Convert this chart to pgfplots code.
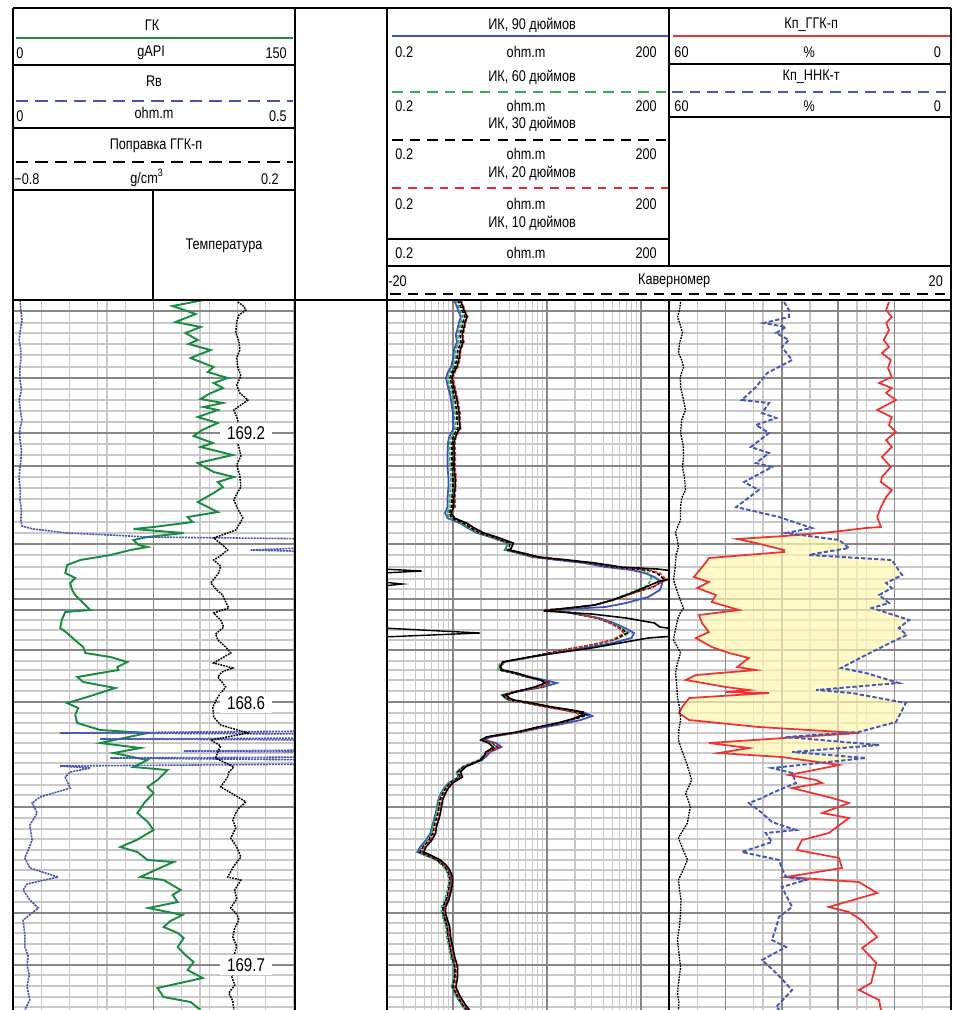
\documentclass[border=0pt]{standalone}
\usepackage{pgfplots}
\usepackage{pgfplotstable}
\pgfplotsset{compat=1.18}
\usepackage{fontspec}
\setmainfont{Liberation Sans}[FakeStretch=0.82]

\definecolor{gkgreen}{RGB}{25,140,65}
\definecolor{rwblue}{RGB}{70,85,180}
\definecolor{ikblue}{RGB}{60,80,190}
\definecolor{ikgreen}{RGB}{50,175,80}
\definecolor{ikred}{RGB}{240,40,40}
\definecolor{kpred}{RGB}{240,50,50}
\definecolor{kpblue}{RGB}{70,90,180}
\definecolor{gridlight}{RGB}{200,200,200}
\definecolor{griddark}{RGB}{135,135,135}
\definecolor{fillyellow}{RGB}{255,248,175}

% ---------- log data (depth in chart rows) ----------
\pgfplotstableread{
depth gk
300 101.8
306 85.2
314 97.5
322 86.8
327 100.2
333 92.1
340 98.6
344 93.7
350 105.5
358 94.8
362 100.2
367 107.1
372 104.0
378 114.6
383 107.1
388 112.0
394 104.5
399 100.2
403 112.0
407 101.8
410 109.3
417 98.6
423 109.3
430 101.0
436 96.4
443 106.6
447 100.2
455 117.3
463 98.6
472 107.1
477 117.9
482 109.3
487 112.0
493 107.1
502 98.6
507 104.0
512 109.3
517 93.2
522 95.9
527 75.0
529 64.3
533 91.1
537 71.8
540 64.3
545 67.0
547 71.8
550 62.7
555 52.0
560 35.9
565 28.9
573 27.9
578 33.2
583 30.5
590 31.6
595 33.2
603 37.5
610 41.2
612 27.9
620 26.0
628 25.2
633 28.9
640 33.0
647 37.5
653 38.6
657 52.0
662 61.1
667 55.7
670 56.2
677 34.3
682 37.5
688 54.6
697 39.6
703 28.9
708 34.8
715 33.2
723 34.3
730 46.6
733 71.8
743 46.6
748 68.0
753 53.6
760 71.8
767 64.3
770 82.5
780 77.1
787 71.8
793 75.0
803 70.0
813 66.4
822 72.0
830 75.0
840 66.0
847 57.3
852 66.4
860 71.8
862 85.7
870 76.0
877 68.0
880 80.4
890 89.5
895 85.2
902 87.9
908 72.3
915 90.5
921 84.0
927 80.4
933 88.0
938 91.1
947 87.9
955 92.0
962 96.4
970 93.2
978 101.3
988 77.1
997 80.4
1002 94.8
1010 100.2
}\gkdata

\pgfplotstableread{
depth corr
302 0.000
306 0.020
310 0.029
315 0.004
322 -0.004
333 -0.007
341 0.004
350 0.007
358 -0.004
367 0.000
376 0.011
385 -0.004
393 0.007
400 0.036
405 0.011
410 -0.014
420 0.000
430 0.004
438 -0.007
447 0.004
456 0.011
465 -0.004
475 0.007
487 0.011
494 -0.004
500 -0.014
509 0.000
518 0.018
525 0.004
530 -0.007
538 -0.086
545 -0.054
550 -0.036
557 -0.068
560 -0.086
566 -0.061
573 -0.068
583 -0.096
590 -0.075
595 -0.054
602 -0.043
608 -0.032
613 -0.086
620 -0.061
627 -0.050
634 -0.079
640 -0.071
647 -0.043
653 -0.025
663 -0.086
668 -0.018
672 -0.057
677 -0.071
687 -0.043
697 -0.071
707 -0.089
717 -0.086
725 -0.061
733 0.036
740 -0.096
746 -0.061
752 -0.071
758 -0.079
767 -0.014
772 -0.032
777 -0.036
787 -0.061
795 -0.011
802 0.029
808 0.004
813 -0.007
820 -0.018
828 -0.007
838 -0.025
847 -0.004
857 0.011
866 -0.014
877 -0.036
880 0.011
890 -0.011
899 -0.004
908 -0.025
914 -0.004
920 0.004
928 -0.011
937 -0.018
946 -0.004
956 -0.014
967 -0.007
977 -0.021
985 -0.011
993 -0.032
1001 -0.018
1010 -0.014
}\corrdata

\pgfplotstableread{
depth rw
300 0.0125
310 0.014
320 0.016
330 0.013
340 0.011
350 0.014
360 0.014
370 0.012
380 0.0125
390 0.015
400 0.011
410 0.013
420 0.016
430 0.012
440 0.0125
450 0.015
460 0.014
470 0.012
480 0.011
490 0.013
500 0.0125
510 0.015
520 0.014
526 0.016
529 0.036
533 0.096
535 0.173
537 0.239
539 0.56
547 0.56
550 0.423
552 0.56
731 0.56
733 0.084
734 0.56
738 0.56
739 0.155
740 0.56
750 0.56
751 0.304
752 0.56
757 0.56
758 0.173
760 0.56
764 0.56
766 0.084
768 0.138
772 0.102
777 0.093
781 0.096
788 0.102
797 0.048
803 0.034
813 0.043
825 0.030
840 0.034
850 0.027
858 0.021
868 0.030
877 0.080
884 0.025
890 0.018
900 0.030
908 0.045
920 0.018
935 0.021
947 0.021
956 0.027
965 0.025
975 0.029
987 0.025
1000 0.030
1010 0.021
}\rwdata

\pgfplotstableread{
depth r
300 1.03
305 1.09
310 1.14
317 1.22
322 1.17
327 1.14
335 1.08
342 1.11
350 1.03
358 1.01
367 0.96
372 0.89
378 0.85
387 0.89
395 0.94
400 0.96
407 0.98
413 1.01
420 1.00
428 1.03
433 0.96
438 0.91
443 0.89
455 0.88
467 0.88
477 0.90
487 0.90
497 0.88
507 0.88
513 0.83
518 0.88
523 1.18
528 1.45
533 1.82
537 2.50
543 3.80
548 3.70
550 3.65
553 4.90
557 7.0
560 13.0
563 25.0
567 42.0
570 80.0
573 110
577 140
583 170
590 160
597 120
603 70
607 42
610 10.5
612 15.5
618 36
623 52
628 68
633 85
638 80
643 50
648 25
653 12
657 7.0
662 3.5
667 3.2
670 3.3
673 4.6
677 6.8
680 9.5
683 12.8
687 9.2
692 4.6
695 3.4
698 3.6
700 4.0
703 6.3
707 11.0
710 17.5
713 25.5
716 30.5
720 23
724 14.5
728 8.5
732 5.4
735 3.4
737 2.5
740 2.2
743 2.9
747 3.3
750 2.8
752 2.5
756 2.3
760 2.05
764 1.6
767 1.32
772 1.10
777 1.15
783 0.90
788 0.81
793 0.75
800 0.70
807 0.68
813 0.66
820 0.63
827 0.60
833 0.58
840 0.52
847 0.45
852 0.42
855 0.50
860 0.70
865 0.81
870 0.90
875 0.94
880 0.96
887 0.94
893 0.92
900 0.87
907 0.81
913 0.80
920 0.84
927 0.88
937 0.90
947 0.94
957 0.98
967 1.05
977 1.04
987 0.98
995 1.08
1000 1.16
1005 1.25
1010 1.38
}\ikninety

\pgfplotstableread{
depth r
300 1.08
305 1.14
310 1.19
317 1.28
322 1.22
327 1.19
335 1.14
342 1.16
350 1.08
358 1.06
367 1.01
372 0.93
378 0.89
387 0.93
395 0.98
400 1.01
407 1.03
413 1.06
420 1.05
428 1.08
433 1.01
438 0.96
443 0.93
455 0.93
467 0.94
477 0.96
487 0.95
497 0.93
507 0.94
513 0.86
518 0.93
523 1.22
528 1.50
533 1.88
537 2.60
543 3.90
548 3.65
550 3.55
553 5.0
557 7.3
560 14.5
563 28
567 48
570 105
573 120
578 130
585 120
592 80
600 50
605 33
608 18
610 9.8
612 16.5
618 34
623 48
628 63
633 76
640 53
645 30
650 15
657 6.5
662 3.3
667 3.0
670 3.05
673 4.3
677 6.1
680 8.5
683 11.0
687 8.4
692 4.3
695 3.3
698 3.55
700 3.95
703 6.0
707 9.9
710 15.5
713 22.8
715 24.5
719 19.5
723 13.5
727 8.3
732 5.1
735 3.1
737 2.25
740 2.0
743 2.6
747 2.95
750 2.55
752 2.28
756 2.1
760 1.90
764 1.49
767 1.25
772 1.10
777 1.16
783 0.91
788 0.82
793 0.76
800 0.71
807 0.69
813 0.67
820 0.64
827 0.61
833 0.60
840 0.54
847 0.47
852 0.44
855 0.52
860 0.66
865 0.77
870 0.85
875 0.89
880 0.91
887 0.89
893 0.86
900 0.82
907 0.76
913 0.76
920 0.80
927 0.84
937 0.86
947 0.91
957 0.95
967 1.02
977 1.03
987 0.98
995 1.08
1000 1.16
1005 1.25
1010 1.38
}\iksixty

\pgfplotstableread{
depth r
300 1.138
305 1.196
310 1.256
317 1.351
322 1.287
327 1.256
335 1.196
342 1.225
350 1.138
358 1.111
367 1.058
372 0.983
378 0.936
387 0.983
395 1.032
400 1.058
407 1.084
413 1.111
420 1.111
428 1.138
433 1.058
438 1.007
443 0.983
455 0.983
467 0.983
477 1.007
487 1.007
497 0.983
507 0.983
513 0.913
518 0.983
523 1.287
528 1.566
533 1.950
537 2.68
543 4.07
548 3.97
550 3.87
553 5.20
557 7.50
560 14.90
563 28.9
567 50.7
570 116.7
573 149.1
580 181.3
587 135.1
593 82.8
600 50.7
605 32.6
608 17.70
610 9.58
612 16.44
618 34.3
623 47.1
628 60.2
633 71.5
640 50.7
645 28.9
650 14.90
657 6.64
662 3.43
667 3.19
670 3.19
673 4.38
677 6.17
680 8.48
683 10.84
687 8.48
692 4.38
695 3.43
698 3.69
700 4.07
703 6.17
707 10.07
710 15.66
713 22.6
715 26.8
719 20.0
723 13.84
727 8.48
732 5.20
735 3.19
737 2.32
740 2.05
743 2.68
747 3.03
750 2.62
752 2.32
756 2.15
760 1.950
764 1.528
767 1.287
772 1.138
777 1.196
783 0.936
788 0.849
793 0.788
800 0.733
807 0.715
813 0.698
820 0.664
827 0.632
833 0.617
840 0.560
847 0.483
852 0.449
855 0.533
860 0.681
865 0.788
870 0.870
875 0.913
880 0.936
887 0.913
893 0.891
900 0.849
907 0.788
913 0.788
920 0.828
927 0.870
937 0.891
947 0.936
957 0.983
967 1.058
977 1.058
987 1.007
995 1.111
1000 1.196
1005 1.287
1010 1.419
}\ikthirty

\pgfplotstableread{
depth r
300 1.22
305 1.29
310 1.35
317 1.45
322 1.38
327 1.35
335 1.29
342 1.32
350 1.22
358 1.20
367 1.14
372 1.06
378 1.01
387 1.06
395 1.11
400 1.14
407 1.17
413 1.20
420 1.20
428 1.22
433 1.14
438 1.08
443 1.06
455 1.07
467 1.06
477 1.09
487 1.08
497 1.06
507 1.06
513 0.98
518 1.05
523 1.38
528 1.66
533 2.05
537 2.80
543 4.35
548 4.30
550 4.10
553 5.4
557 7.6
560 15.5
563 30
567 55
570 125
573 160
580 190
586 140
593 85
600 52
605 33
608 18
610 9.8
612 17
618 35
623 47
628 58
633 66
640 50
645 29
650 15.5
657 6.9
662 3.55
667 3.3
670 3.3
673 4.5
677 6.3
680 8.6
683 10.6
687 8.6
692 4.5
695 3.55
698 3.8
700 4.2
703 6.3
707 10.0
710 15.0
713 20.5
715 23.0
719 19.0
723 13.8
727 8.6
732 5.3
735 3.25
737 2.38
740 2.1
743 2.75
747 3.1
750 2.7
752 2.4
756 2.2
760 2.0
764 1.58
767 1.33
772 1.18
777 1.23
783 0.97
788 0.88
793 0.82
800 0.76
807 0.74
813 0.72
820 0.69
827 0.65
833 0.64
840 0.58
847 0.50
852 0.47
855 0.55
860 0.71
865 0.81
870 0.90
875 0.94
880 0.97
887 0.94
893 0.92
900 0.88
907 0.82
913 0.82
920 0.86
927 0.90
937 0.92
947 0.97
957 1.01
967 1.09
977 1.09
987 1.04
995 1.14
1000 1.23
1005 1.33
1010 1.46
}\iktwenty

\pgfplotstableread{
depth r
300 1.20
305 1.26
310 1.32
317 1.42
322 1.35
327 1.32
335 1.26
342 1.29
350 1.20
358 1.17
367 1.11
372 1.03
378 0.98
387 1.03
395 1.08
400 1.11
407 1.14
413 1.17
420 1.17
428 1.20
433 1.11
438 1.06
443 1.03
455 1.04
467 1.03
477 1.06
487 1.06
497 1.03
507 1.03
513 0.96
518 1.04
523 1.40
528 1.70
533 2.15
537 2.95
543 4.40
548 4.20
550 4.00
553 5.6
557 8.3
560 17
563 33
567 62
569 150
571 230
578 230
581 160
586 120
593 80
600 50
605 32
608 17
611 9.3
614 30
618 70
623 140
627 160
629 230
636 230
638 120
643 60
648 30
652 15
657 6.5
662 3.4
667 3.2
670 3.4
673 4.8
677 6.5
680 8.6
683 9.6
687 7.4
692 4.6
695 3.7
698 4.0
700 4.5
703 7.0
707 11.5
710 18.5
712 24.5
715 24
719 18.5
723 13
727 8.0
732 4.8
735 3.0
737 2.3
740 2.0
743 2.4
747 2.7
750 2.45
752 2.25
756 2.15
760 2.0
764 1.6
767 1.37
772 1.21
777 1.27
783 1.00
788 0.90
793 0.84
800 0.78
807 0.76
813 0.74
820 0.71
827 0.67
833 0.66
840 0.60
847 0.52
852 0.49
855 0.58
860 0.74
865 0.85
870 0.93
875 0.98
880 1.00
887 0.98
893 0.95
900 0.91
907 0.84
913 0.84
920 0.88
927 0.93
937 0.95
947 1.00
957 1.05
967 1.13
977 1.13
987 1.08
995 1.18
1000 1.27
1005 1.37
1010 1.51
}\ikten

\pgfplotstableread{
depth k
302 13.2
310 13.8
317 12.6
323 13.8
330 13.2
340 14.3
347 13.2
353 14.7
360 12.8
368 13.4
377 12.6
383 15.3
388 12.6
393 13.8
400 11.7
410 15.7
417 12.6
425 13.2
432 11.7
440 13.8
447 12.6
457 14.7
467 12.8
477 14.7
482 14.9
490 12.6
497 13.8
507 14.9
517 15.7
527 14.9
528 18.1
532 25.3
536 35.5
539 45.5
543 41.5
550 35.5
552 35.5
555 43.6
558 51.5
562 52.1
577 54.7
582 51.5
588 54.0
595 50.0
602 50.9
610 45.1
615 53.6
623 53.0
632 51.5
638 54.3
647 50.9
653 47.2
658 43.0
667 45.5
670 41.5
675 54.3
680 56.4
687 47.9
690 43.0
692 47.9
693 38.7
698 55.7
707 57.2
713 57.9
720 55.7
727 40.9
733 19.6
743 51.5
748 43.0
753 49.4
757 36.0
765 23.8
775 34.5
780 28.7
783 27.4
788 33.8
798 25.3
803 21.7
813 27.4
818 21.7
833 26.0
840 31.7
850 32.8
858 23.8
868 23.2
877 35.1
882 19.6
893 15.7
907 26.0
912 21.7
920 19.1
937 15.7
948 18.9
963 15.9
983 17.0
990 19.6
1000 15.3
1010 14.9
}\ggkdata

\pgfplotstableread{
depth k
302 35.5
310 34.5
317 34.5
323 39.8
327 35.1
333 37.2
340 34.5
347 36.0
360 33.8
373 39.1
387 41.5
400 44.5
403 38.7
413 40.2
418 37.2
425 41.5
433 38.7
447 42.6
453 38.7
463 41.5
467 38.1
482 44.0
490 40.9
507 45.7
517 36.6
528 29.6
533 35.1
540 23.8
548 21.7
553 28.1
555 30.2
560 12.6
575 10.4
583 13.8
588 12.6
595 15.3
603 13.2
608 16.8
620 8.9
628 11.1
635 9.4
640 11.7
655 18.1
668 23.4
673 18.1
683 11.1
690 28.7
693 21.1
703 9.6
722 11.7
732 19.6
737 35.1
745 15.3
752 33.8
758 18.1
768 38.1
773 33.8
783 33.0
793 38.1
798 40.2
803 43.0
813 40.2
822 38.1
830 33.0
833 39.4
842 38.1
852 44.5
860 36.6
868 36.0
877 35.1
880 30.9
887 36.0
907 33.8
917 36.6
927 37.2
940 38.1
947 35.1
960 40.2
973 37.2
990 33.8
1007 37.2
1010 36.5
}\nnkdata

% outline of the shaded interval: density porosity down, neutron porosity back up
\pgfplotstableread{
depth k
536 35.5
539 45.5
543 41.5
550 35.5
552 35.5
555 43.6
558 51.5
562 52.1
577 54.7
582 51.5
588 54.0
595 50.0
602 50.9
610 45.1
615 53.6
623 53.0
632 51.5
638 54.3
647 50.9
653 47.2
658 43.0
667 45.5
670 41.5
675 54.3
680 56.4
687 47.9
690 43.0
692 47.9
693 38.7
698 55.7
707 57.2
713 57.9
720 55.7
727 40.9
733 19.6
743 51.5
748 43.0
753 49.4
757 36.0
762 28.4
762 26.1
758 18.1
752 33.8
745 15.3
737 35.1
732 19.6
722 11.7
703 9.6
693 21.1
690 28.7
683 11.1
673 18.1
668 23.4
655 18.1
640 11.7
635 9.4
628 11.1
620 8.9
608 16.8
603 13.2
595 15.3
588 12.6
583 13.8
575 10.4
560 12.6
555 30.2
553 28.1
548 21.7
540 23.8
536 30.3
}\gasdata

\pgfplotstableread{
depth cal
302 0.82
310 0.75
317 0.60
325 0.80
333 0.96
343 0.75
353 0.67
360 0.90
367 1.03
377 0.80
387 0.82
398 1.00
410 1.17
420 0.90
433 0.82
445 1.00
457 1.03
467 0.96
478 1.10
490 1.17
498 0.90
507 0.82
520 0.82
527 0.60
533 0.46
540 0.60
547 0.67
555 0.50
563 0.46
572 0.40
580 0.32
590 0.55
600 0.80
608 1.03
614 0.75
620 0.60
630 0.45
640 0.32
647 0.60
653 0.82
663 0.60
673 0.46
685 0.55
697 0.60
708 0.75
720 0.82
730 0.70
740 0.67
750 0.90
760 1.17
770 1.40
780 1.60
787 1.40
793 1.17
800 1.35
807 1.52
815 1.40
823 1.31
830 1.00
838 0.67
848 0.95
860 1.31
870 1.00
880 0.67
890 0.75
900 0.85
913 0.82
925 0.75
940 0.60
953 0.70
967 0.82
980 0.70
993 0.60
1002 0.70
1010 0.67
}\caldata

\pgfplotsset{
  track/.style={
    scale only axis, height=14.2cm, anchor=north west,
    ymin=300, ymax=1010, y dir=reverse,
    axis line style={draw=none},
    major tick length=0pt, minor tick length=0pt,
    xticklabels={}, yticklabels={},
    extra x tick labels={}, extra y tick labels={},
    grid=both,
    minor grid style={gridlight, line width=0.6pt},
    major grid style={gridlight, line width=1.1pt},
    minor ytick={333,344,355,367,389,400,411,422,444,455,477,499,511,522,533,555,567,579,589,620,630,640,661,670,680,691,713,723,733,743,763,774,785,795,818,829,839,850,870,880,891,902,923,933,944,954,975,986,997,1007},
    ytick={323,488,753,860},
    extra y ticks={311,378,433,466,544,599,610,650,702,807,913,965},
    extra y tick style={grid=major, major grid style={griddark, line width=0.9pt}},
    extra x tick style={grid=major, major grid style={griddark, line width=0.9pt}},
  },
  overlay/.style={
    scale only axis, height=14.2cm, anchor=north west,
    ymin=300, ymax=1010, y dir=reverse, hide axis,
  },
}

\begin{document}
\begin{tikzpicture}[every node/.style={font=\fontsize{8.8}{10}\selectfont, inner sep=0pt}]

% ---------- track 1: GK, Rw, density correction ----------
\begin{axis}[track, at={(0.26cm,-6cm)}, width=5.62cm,
  xmin=0, xmax=150,
  xtick={}, minor xtick={15,30,45,60,90,105,120,135},
  extra x ticks={75}]
  \addplot[gkgreen, line width=1.1pt] table[x=gk, y=depth] {\gkdata};
\end{axis}
\begin{axis}[overlay, at={(0.26cm,-6cm)}, width=5.62cm, xmin=0, xmax=0.5]
  \addplot[rwblue, line width=0.9pt, dash pattern=on 1.2pt off 0.5pt] table[x=rw, y=depth] {\rwdata};
\end{axis}
\begin{axis}[overlay, at={(0.26cm,-6cm)}, width=5.62cm, xmin=-0.8, xmax=0.2]
  \addplot[black, line width=0.85pt, dash pattern=on 1pt off 0.6pt] table[x=corr, y=depth] {\corrdata};
\end{axis}

% ---------- track 2: induction resistivity, log scale ----------
\begin{axis}[track, at={(7.74cm,-6cm)}, width=5.64cm,
  xmode=log, xmin=0.2, xmax=200,
  xtick={}, minor xtick={0.3,0.4,0.5,0.6,0.7,0.8,0.9,2,3,4,5,6,7,8,9,20,30,40,50,60,70,80,90},
  extra x ticks={1,10,100}]
  \addplot[ikblue, line width=1pt] table[x=r, y=depth] {\ikninety};
  \addplot[ikgreen, line width=0.9pt, dash pattern=on 2pt off 1pt] table[x=r, y=depth] {\iksixty};
  \addplot[black, line width=0.9pt, dash pattern=on 2pt off 1pt] table[x=r, y=depth] {\ikthirty};
  \addplot[ikred, line width=0.8pt, dash pattern=on 2pt off 1pt] table[x=r, y=depth] {\iktwenty};
  \addplot[black, line width=0.9pt] table[x=r, y=depth] {\ikten};
  % backup-scale wrap of the 10-inch curve
  \addplot[black, line width=0.8pt] coordinates {(0.18,569) (0.47,571) (0.18,573)};
  \addplot[black, line width=0.8pt] coordinates {(0.18,582) (0.29,584) (0.18,586)};
  \addplot[black, line width=0.8pt] coordinates {(0.18,628) (1.95,633) (0.18,637)};
\end{axis}

% ---------- track 3: porosity ----------
\begin{axis}[track, at={(13.38cm,-6cm)}, width=5.64cm,
  xmin=0, xmax=60, x dir=reverse,
  xtick={}, minor xtick={6,18,30,42,54},
  extra x ticks={12,24,36,48}]
  \addplot[draw=none, fill=fillyellow, fill opacity=0.7] table[x=k, y=depth] {\gasdata} -- cycle;
  \addplot[kpred, line width=1pt] table[x=k, y=depth] {\ggkdata};
  \addplot[kpblue, line width=1.1pt, dash pattern=on 2.5pt off 1.2pt] table[x=k, y=depth] {\nnkdata};
\end{axis}

% ---------- caliper across tracks 2 and 3 ----------
\begin{axis}[overlay, at={(7.74cm,-6cm)}, width=11.28cm, xmin=-20, xmax=20]
  \addplot[black, line width=0.75pt, dash pattern=on 1pt off 0.6pt] table[x=cal, y=depth] {\caldata};
\end{axis}

% ---------- header and frame ----------
\begin{scope}[x=0.02cm, y=-0.02cm]
  \fill[white] (13,8) rectangle (951,300);
  % track 1 header
  \node at (152,25) {ГК};
  \draw[gkgreen, line width=1pt] (16,38) -- (293,38);
  \node[anchor=west] at (16,53) {0};
  \node at (151,53) {gAPI};
  \node[anchor=east] at (287,53) {150};
  \draw[line width=0.8pt] (13,65) -- (295,65);
  \node at (154,81) {Rв};
  \draw[rwblue, line width=0.8pt, dash pattern=on 7pt off 4pt] (16,101) -- (293,101);
  \node[anchor=west] at (16,116) {0};
  \node at (154,113) {ohm.m};
  \node[anchor=east] at (287,116) {0.5};
  \draw[line width=0.8pt] (13,128) -- (295,128);
  \node at (156,146) {Поправка ГГК-п};
  \draw[black, line width=0.8pt, dash pattern=on 7pt off 4pt] (16,162) -- (293,162);
  \node[anchor=west] at (14,179) {−0.8};
  \node at (147,178) {g/cm\textsuperscript{3}};
  \node[anchor=east] at (279,179) {0.2};
  \draw[line width=0.8pt] (13,190) -- (295,190);
  \draw[line width=0.8pt] (153,190) -- (153,300);
  \node at (224,246) {Температура};
  % track 2 header
  \node at (532,25) {ИК, 90 дюймов};
  \draw[ikblue, line width=0.9pt] (392,36) -- (668,36);
  \node[anchor=west] at (395,52) {0.2};
  \node at (526,52) {ohm.m};
  \node[anchor=east] at (657,52) {200};
  \node at (532,77) {ИК, 60 дюймов};
  \draw[ikgreen, line width=0.9pt, dash pattern=on 6pt off 4pt] (392,92) -- (668,92);
  \node[anchor=west] at (395,106) {0.2};
  \node at (526,106) {ohm.m};
  \node[anchor=east] at (657,106) {200};
  \node at (532,124) {ИК, 30 дюймов};
  \draw[black, line width=0.8pt, dash pattern=on 6pt off 4pt] (392,140) -- (668,140);
  \node[anchor=west] at (395,154) {0.2};
  \node at (526,154) {ohm.m};
  \node[anchor=east] at (657,154) {200};
  \node at (532,173) {ИК, 20 дюймов};
  \draw[ikred, line width=0.8pt, dash pattern=on 5pt off 4pt] (392,188) -- (668,188);
  \node[anchor=west] at (395,204) {0.2};
  \node at (526,204) {ohm.m};
  \node[anchor=east] at (657,204) {200};
  \node at (532,223) {ИК, 10 дюймов};
  \draw[line width=0.8pt] (387,239) -- (669,239);
  \node[anchor=west] at (395,253) {0.2};
  \node at (526,253) {ohm.m};
  \node[anchor=east] at (657,253) {200};
  \draw[line width=0.8pt] (387,266) -- (951,266);
  \node[anchor=west] at (388,281) {-20};
  \node at (674,281) {Каверномер};
  \node[anchor=east] at (943,281) {20};
  \draw[black, line width=0.8pt, dash pattern=on 6pt off 4pt] (390,294) -- (950,294);
  \draw[line width=0.8pt] (669,8) -- (669,266);
  % track 3 header
  \node at (811,25) {Кп\_ГГК-п};
  \draw[kpred, line width=0.9pt] (673,36) -- (950,36);
  \node[anchor=west] at (674,52) {60};
  \node at (809,52) {\%};
  \node[anchor=east] at (941,52) {0};
  \draw[line width=0.8pt] (669,64) -- (951,64);
  \node at (811,77) {Кп\_ННК-т};
  \draw[kpblue, line width=0.9pt, dash pattern=on 6pt off 4pt] (672,92) -- (950,92);
  \node[anchor=west] at (674,106) {60};
  \node at (809,106) {\%};
  \node[anchor=east] at (941,106) {0};
  \draw[line width=0.8pt] (669,117) -- (951,117);
  % frame
  \draw[line width=0.9pt] (13,8) -- (951,8);
  \draw[line width=0.9pt] (13,300) -- (951,300);
  \draw[line width=0.9pt] (13,8) -- (13,1010);
  \draw[line width=0.9pt] (295,8) -- (295,1010);
  \draw[line width=0.9pt] (387,8) -- (387,1010);
  \draw[line width=0.9pt] (669,300) -- (669,1010);
  \draw[line width=0.9pt] (951,8) -- (951,1010);
  % depth marks
  \foreach \yy/\lab in {433/169.2, 703/168.6, 965/169.7}
    \node[fill=white, minimum width=1.04cm, minimum height=0.4cm,
          font=\fontsize{10.5}{12}\selectfont] at (246,\yy) {\lab};
\end{scope}

\pgfresetboundingbox
\path[use as bounding box] (0,0) rectangle (19.14cm,-20.2cm);
\end{tikzpicture}
\end{document}
